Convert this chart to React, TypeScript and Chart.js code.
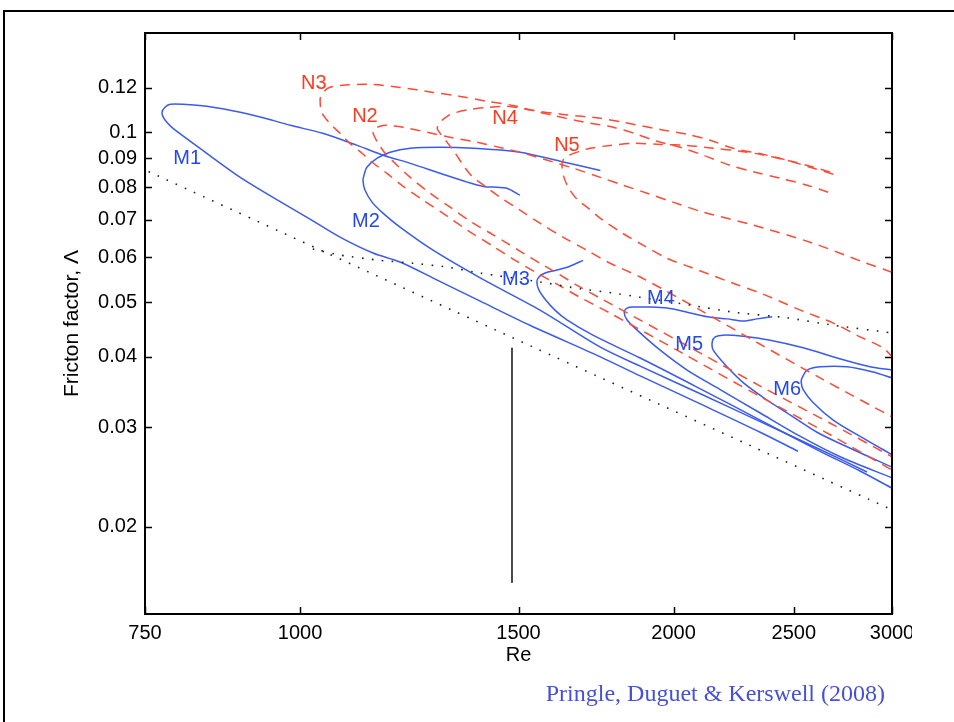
import React, { useEffect, useRef } from 'react';
import { Chart, registerables } from 'chart.js';

Chart.register(...registerables);

// ---- axis ticks ----
const X_TICKS = [750, 1000, 1500, 2000, 2500, 3000];
const Y_TICKS = [0.02, 0.03, 0.04, 0.05, 0.06, 0.07, 0.08, 0.09, 0.1, 0.12];

// ---- blue solid solution branches (Re, friction factor) ----
const M1: [number, number][] = [
  [1504, 0.0774], [1468, 0.0796], [1441, 0.0799], [1405, 0.0802], [1364, 0.0816], [1297, 0.0846],
  [1227, 0.0881], [1167, 0.0911], [1112, 0.0948], [1043, 0.0996], [982, 0.1029], [951, 0.105],
  [895, 0.1085], [841, 0.1112], [805, 0.1121], [786, 0.1121], [778, 0.1107], [774, 0.1085],
  [776, 0.1063], [781, 0.1042], [790, 0.1016], [841, 0.0918], [895, 0.0832], [951, 0.0767],
  [1013, 0.0707], [1077, 0.0652], [1145, 0.0611], [1204, 0.0589], [1290, 0.0547], [1397, 0.0502],
  [1532, 0.0455], [1746, 0.04], [1880, 0.037], [2102, 0.033], [2349, 0.0294], [2520, 0.0272],
];
const M2: [number, number][] = [
  [1746, 0.0856], [1620, 0.0889], [1504, 0.0922], [1379, 0.0937], [1297, 0.0941], [1227, 0.0937],
  [1182, 0.0922], [1154, 0.09], [1132, 0.0867], [1126, 0.0839], [1124, 0.0822], [1128, 0.079],
  [1143, 0.0752], [1164, 0.0722], [1204, 0.0679], [1280, 0.0618], [1397, 0.0552], [1561, 0.0484],
  [1746, 0.0416], [1880, 0.0385], [2102, 0.0344], [2349, 0.0307], [2625, 0.0274], [2864, 0.025],
];
const M3: [number, number][] = [
  [1691, 0.0593], [1650, 0.0579], [1611, 0.057], [1576, 0.0563], [1558, 0.0554], [1552, 0.0543],
  [1558, 0.0525], [1576, 0.0506], [1605, 0.0484], [1641, 0.0465], [1722, 0.0437], [1880, 0.0398],
  [2102, 0.0351], [2349, 0.0309], [2625, 0.0272], [2827, 0.0251], [3000, 0.0234],
];
const M4: [number, number][] = [
  [2402, 0.0471], [2336, 0.0467], [2276, 0.0463], [2209, 0.0467], [2129, 0.0471], [2051, 0.048],
  [1976, 0.0488], [1915, 0.049], [1855, 0.049], [1835, 0.0488], [1825, 0.048], [1835, 0.0465],
  [1880, 0.0441], [1951, 0.0411], [2051, 0.0379], [2181, 0.035], [2349, 0.0318], [2531, 0.0289],
  [2725, 0.0266], [3000, 0.0244],
];
const M5: [number, number][] = [
  [3000, 0.0379], [2880, 0.0384], [2710, 0.0398], [2544, 0.0415], [2393, 0.0428], [2276, 0.0435],
  [2193, 0.0437], [2161, 0.0434], [2149, 0.0425], [2153, 0.0411], [2209, 0.0384], [2276, 0.036],
  [2380, 0.0335], [2470, 0.0318], [2610, 0.0294], [2790, 0.0274], [3000, 0.0255],
];
const M6: [number, number][] = [
  [3000, 0.0367], [2896, 0.0376], [2760, 0.0384], [2625, 0.0384], [2563, 0.0379], [2539, 0.0367],
  [2535, 0.036], [2544, 0.035], [2591, 0.0332], [2690, 0.0309], [2827, 0.0289], [2950, 0.0274],
  [3000, 0.0268],
];

// ---- red dashed solution branches ----
const N2: [number, number][] = [
  [3000, 0.0565], [2843, 0.0589], [2591, 0.0636], [2318, 0.0685], [2113, 0.0722], [1998, 0.0752],
  [1904, 0.078], [1821, 0.0806], [1746, 0.0832], [1660, 0.0864], [1504, 0.0922], [1458, 0.0937],
  [1389, 0.096], [1321, 0.098], [1266, 0.1], [1211, 0.1021], [1175, 0.1029], [1160, 0.1025],
  [1145, 0.1008], [1149, 0.098], [1160, 0.0945], [1173, 0.0914], [1188, 0.0889], [1227, 0.0832],
  [1273, 0.078], [1321, 0.0737], [1379, 0.069], [1423, 0.0663], [1468, 0.0636], [1513, 0.0611],
  [1561, 0.0586], [1611, 0.0563], [1681, 0.0532], [1746, 0.0508], [2025, 0.0425], [2349, 0.0355],
  [2675, 0.0305], [3000, 0.0266],
];
const N3: [number, number][] = [
  [2690, 0.0843], [2577, 0.0867], [2470, 0.0892], [2362, 0.0914], [2234, 0.0937], [2141, 0.0968],
  [2051, 0.0992], [1951, 0.1012], [1821, 0.1042], [1746, 0.1059], [1629, 0.1076], [1541, 0.1094],
  [1485, 0.1116], [1415, 0.1135], [1346, 0.1158], [1280, 0.1177], [1204, 0.1201], [1139, 0.1216],
  [1077, 0.1211], [1053, 0.1197], [1040, 0.1163], [1038, 0.1139], [1041, 0.1085], [1057, 0.1037],
  [1077, 0.0996], [1097, 0.0956], [1122, 0.0918], [1143, 0.0885], [1175, 0.0846], [1211, 0.0802],
  [1257, 0.0758], [1314, 0.071], [1364, 0.0671], [1431, 0.0628], [1485, 0.0596], [1552, 0.0563],
  [1611, 0.0538], [1681, 0.051], [1778, 0.0478], [2025, 0.0408], [2349, 0.034], [2675, 0.0291],
  [3000, 0.0252],
];
const N4: [number, number][] = [
  [2665, 0.0783], [2563, 0.0806], [2438, 0.0829], [2327, 0.085], [2222, 0.0874], [2113, 0.0911],
  [2025, 0.0941], [1940, 0.0964], [1869, 0.0992], [1788, 0.1021], [1681, 0.1046], [1599, 0.1072],
  [1524, 0.1098], [1468, 0.1112], [1415, 0.1107], [1371, 0.1098], [1329, 0.1081], [1314, 0.1067],
  [1297, 0.1042], [1290, 0.1016], [1297, 0.0996], [1314, 0.096], [1334, 0.0918], [1354, 0.0874],
  [1376, 0.0836], [1410, 0.0802], [1450, 0.0767], [1504, 0.0728], [1561, 0.069], [1629, 0.0652],
  [1703, 0.0618], [1778, 0.0586], [1880, 0.0554], [2102, 0.0484], [2349, 0.0421], [2625, 0.0367],
  [3000, 0.0313],
];
const N5: [number, number][] = [
  [2675, 0.085], [2577, 0.0871], [2470, 0.0892], [2349, 0.0914], [2263, 0.0926], [2153, 0.0937],
  [2051, 0.0948], [1951, 0.0952], [1855, 0.0956], [1778, 0.0948], [1713, 0.0937], [1681, 0.0926],
  [1641, 0.0907], [1629, 0.0892], [1626, 0.0874], [1632, 0.0832], [1650, 0.079], [1675, 0.0758],
  [1707, 0.0734], [1746, 0.0704], [1818, 0.0663], [1890, 0.0631], [1976, 0.0598], [2063, 0.0577],
  [2234, 0.054], [2349, 0.0519], [2531, 0.0484], [2690, 0.0459], [2827, 0.0434], [2950, 0.0415],
  [3000, 0.04],
];

// ---- black reference lines ----
const LAMINAR: [number, number][] = [[755, 0.0852], [1485, 0.0432], [2975, 0.0216]];
const TURBULENT: [number, number][] = [
  [1024, 0.0621], [1077, 0.0606], [1160, 0.0593], [1234, 0.0586], [1314, 0.0577], [1397, 0.0563],
  [1561, 0.0543], [1681, 0.0528], [1788, 0.0519], [1880, 0.051], [2063, 0.0494], [2234, 0.048],
  [2470, 0.0469], [2690, 0.0455], [3000, 0.0441],
];
const MARKER: [number, number][] = [[1482, 0.0415], [1482, 0.0159]];

// ---- curve name labels ----
const LABEL_TEXT = ['M1', 'M2', 'M3', 'M4', 'M5', 'M6', 'N2', 'N3', 'N4', 'N5'];
const LABEL_RE = [811, 1130, 1493, 1954, 2059, 2470, 1128, 1026, 1463, 1641];
const LABEL_F = [0.09, 0.0696, 0.0549, 0.0508, 0.042, 0.035, 0.1067, 0.1221, 0.1059, 0.0948];

const BLUE = '#3a5af2';
const BLUE_TXT = '#2447f0';
const RED = '#ff4a36';
const RED_TXT = '#ff3a1e';
const FONT = "'Liberation Sans', Arial, sans-serif";

const pts = (a: [number, number][]) => a.map(([x, y]) => ({ x, y }));

export default function App() {
  const ref = useRef<HTMLCanvasElement>(null);

  useEffect(() => {
    const canvas = ref.current;
    if (!canvas) return;

    const boxPlugin = {
      id: 'boxTicks',
      afterDraw(chart: any) {
        const { ctx, chartArea: a, scales } = chart;
        const xs = scales.x;
        const ys = scales.y;
        ctx.save();
        ctx.strokeStyle = '#000';
        ctx.lineWidth = 1.5;
        ctx.beginPath();
        X_TICKS.forEach((v) => {
          const px = Math.round(xs.getPixelForValue(v)) + 0.5;
          ctx.moveTo(px, a.bottom);
          ctx.lineTo(px, a.bottom - 7);
          ctx.moveTo(px, a.top);
          ctx.lineTo(px, a.top + 7);
        });
        Y_TICKS.forEach((v) => {
          const py = Math.round(ys.getPixelForValue(v)) + 0.5;
          ctx.moveTo(a.left, py);
          ctx.lineTo(a.left + 7, py);
          ctx.moveTo(a.right, py);
          ctx.lineTo(a.right - 7, py);
        });
        ctx.stroke();
        ctx.lineWidth = 2;
        ctx.strokeRect(a.left, a.top, a.right - a.left, a.bottom - a.top);
        ctx.restore();
      },
    };

    const labelPlugin = {
      id: 'curveLabels',
      afterDatasetsDraw(chart: any) {
        const { ctx, scales } = chart;
        ctx.save();
        ctx.font = `20px ${FONT}`;
        ctx.textAlign = 'center';
        ctx.textBaseline = 'middle';
        LABEL_TEXT.forEach((t, i) => {
          ctx.fillStyle = t[0] === 'M' ? BLUE_TXT : RED_TXT;
          ctx.fillText(t, scales.x.getPixelForValue(LABEL_RE[i]), scales.y.getPixelForValue(LABEL_F[i]));
        });
        ctx.restore();
      },
    };

    const blue = (d: [number, number][]) => ({
      data: pts(d), showLine: true, borderColor: BLUE, borderWidth: 1.5,
      pointRadius: 0, tension: 0.3, fill: false,
    });
    const red = (d: [number, number][]) => ({
      data: pts(d), showLine: true, borderColor: RED, borderWidth: 1.5, borderDash: [10, 7],
      pointRadius: 0, tension: 0.3, fill: false,
    });
    const dotted = (d: [number, number][]) => ({
      data: pts(d), showLine: true, borderColor: '#222', borderWidth: 1.6, borderDash: [1.6, 8.4],
      pointRadius: 0, tension: 0.2, fill: false,
    });

    const tickFont = { family: FONT, size: 20 };
    const yTitleFont = { family: FONT, size: 21 };

    const chart = new Chart(canvas, {
      type: 'scatter',
      data: {
        datasets: [
          dotted(LAMINAR), dotted(TURBULENT),
          { data: pts(MARKER), showLine: true, borderColor: '#333', borderWidth: 1, pointRadius: 0, tension: 0 },
          red(N2), red(N3), red(N4), red(N5),
          blue(M1), blue(M2), blue(M3), blue(M4), blue(M5), blue(M6),
        ] as any,
      },
      options: {
        responsive: false,
        animation: false,
        layout: { padding: { left: 60, top: 33, right: 20, bottom: 55 } },
        plugins: { legend: { display: false }, tooltip: { enabled: false } },
        scales: {
          x: {
            type: 'logarithmic', min: 750, max: 3000, position: 'bottom',
            afterBuildTicks: (s: any) => { s.ticks = X_TICKS.map((v) => ({ value: v })); },
            afterFit: (s: any) => { s.height = 53; s.paddingLeft = 0; s.paddingRight = 0; },
            grid: { display: false, drawTicks: false },
            border: { display: false },
            ticks: { autoSkip: false, maxRotation: 0, minRotation: 0, padding: 7, color: '#000', font: tickFont, callback: (v: any) => String(v) },
            title: { display: true, text: 'Re', color: '#000', font: tickFont, padding: 0 },
          },
          y: {
            type: 'logarithmic', min: 0.014, max: 0.15, position: 'left',
            afterBuildTicks: (s: any) => { s.ticks = Y_TICKS.map((v) => ({ value: v })); },
            afterFit: (s: any) => { s.width = 85; s.paddingTop = 0; s.paddingBottom = 0; },
            grid: { display: false, drawTicks: false },
            border: { display: false },
            ticks: { autoSkip: false, padding: 8, color: '#000', font: tickFont, callback: (v: any) => String(v) },
            title: { display: true, text: 'Fricton factor, Λ', color: '#000', font: yTitleFont, padding: 0 },
          },
        },
      } as any,
      plugins: [boxPlugin, labelPlugin],
    });
    return () => chart.destroy();
  }, []);

  return (
    <>
      <div style={{ position: 'fixed', left: 3, top: 10, width: 2000, height: 2000, border: '2px solid #000', boxSizing: 'border-box' }} />
      <canvas ref={ref} width={912} height={722} style={{ position: 'fixed', left: 0, top: 0, width: 912, height: 722 }} />
      <div style={{ position: 'fixed', right: 69, top: 681, font: "24px 'Liberation Serif', 'Times New Roman', serif", lineHeight: '24px', color: '#4650d8', whiteSpace: 'nowrap' }}>
        {'Pringle, Duguet & Kerswell (2008)'}
      </div>
    </>
  );
}
